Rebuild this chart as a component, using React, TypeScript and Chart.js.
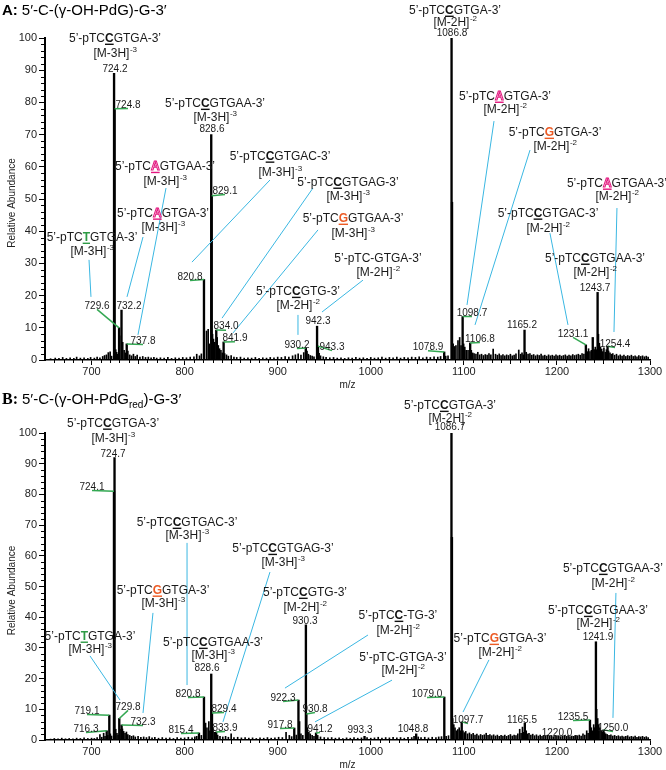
import React, { useEffect, useRef } from 'react';
import { Chart, registerables } from 'chart.js';
Chart.register(...registerables);

const FONT = '"Liberation Sans", Arial, sans-serif';
const X_MIN = 650;
const X_MAX = 1300;

// ---------- Panel A spectrum ----------
const A_PEAKS: [number, number][] = [
  [724.2, 89], [724.8, 78], [729.6, 10], [732.2, 15.5], [737.8, 5], [820.8, 25], [828.6, 70], [829.1, 51],
  [834.0, 9.3], [841.9, 5.6], [930.2, 3.7], [942.3, 10.5], [943.3, 4.3], [1078.9, 2.5], [1086.8, 100],
  [1087.3, 49], [1098.7, 13.5], [1106.8, 5.3], [1165.2, 9.3], [1231.1, 4.7], [1238.5, 7], [1243.7, 21], [1254.4, 4.3],
];
const A_NOISE: [number, number][] = [
  [656, 0.4], [661, 0.6], [665, 0.5], [669, 0.8], [673, 0.5], [677, 0.7], [681, 0.5], [684, 0.9], [688, 0.6],
  [692, 0.7], [696, 0.5], [699, 0.8], [703, 0.6], [706, 0.9], [709, 0.7], [712, 1.1], [714, 1.4], [716, 1.6],
  [718, 2.3], [720, 2.5], [721.5, 1.2], [726, 3.2], [727, 2.4], [728, 1.8], [730.2, 7.5], [733.5, 5.5], [735, 3.0],
  [736.5, 2.2], [739, 2.8], [741, 1.6], [743, 1.3], [745, 1.8], [747, 1.1], [749, 1.5], [752, 0.9], [755, 1.1],
  [758, 0.8], [761, 0.9], [764, 0.7], [767, 0.8], [770, 0.6], [774, 0.7], [778, 0.6], [782, 0.8], [786, 0.5],
  [790, 0.7], [794, 0.6], [798, 0.8], [802, 0.7], [806, 0.9], [810, 1.0], [813, 1.8], [816, 1.3], [818, 1.9],
  [823.5, 9.0], [825.3, 9.5], [826.5, 5.0], [830, 8.0], [831, 6.5], [832.3, 5.5], [835, 7.0], [836.2, 4.5],
  [837.5, 3.5], [839, 3.0], [840.5, 2.2], [843, 2.0], [845, 1.6], [847, 1.2], [850, 1.4], [853, 0.9], [856, 0.8],
  [860, 0.9], [864, 0.6], [868, 0.7], [872, 0.6], [876, 0.8], [880, 0.5], [884, 0.7], [888, 0.6], [892, 0.8],
  [896, 0.7], [900, 0.9], [904, 0.8], [908, 1.1], [912, 0.9], [916, 1.3], [919, 1.6], [922, 1.9], [925, 1.5],
  [928, 2.3], [931.5, 2.8], [933, 1.8], [935, 1.4], [937, 1.2], [939, 1.0], [944.5, 2.1], [946, 1.3], [949, 1.0],
  [952, 0.8], [956, 0.7], [960, 0.8], [964, 0.6], [968, 0.7], [972, 0.5], [976, 0.7], [980, 0.6], [984, 0.8],
  [988, 0.6], [992, 0.7], [996, 0.5], [1000, 0.8], [1004, 0.6], [1008, 0.7], [1012, 0.9], [1016, 0.6], [1020, 0.8],
  [1024, 0.7], [1028, 0.9], [1032, 0.6], [1036, 0.8], [1040, 0.7], [1044, 0.9], [1048, 0.8], [1052, 1.0],
  [1056, 0.7], [1060, 0.9], [1064, 0.8], [1068, 1.0], [1072, 0.9], [1075, 1.1], [1080.5, 1.2], [1083, 1.3],
  [1088.5, 5.0], [1090, 4.2], [1091.5, 4.5], [1093.7, 6.0], [1095.5, 7.0], [1097, 4.5], [1099.8, 5.0],
  [1101, 4.0], [1102.5, 3.0], [1104.5, 3.0], [1108, 3.0], [1109.5, 2.2], [1111, 2.0], [1113, 1.8], [1115, 2.4],
  [1117, 1.6], [1119, 1.8], [1121, 1.4], [1123, 1.7], [1125, 1.5], [1127, 2.0], [1129, 1.6], [1131.5, 3.4],
  [1134, 1.8], [1136, 1.5], [1138, 1.9], [1140, 1.4], [1142, 1.7], [1144, 1.3], [1146, 1.6], [1148, 1.4],
  [1150, 1.8], [1152, 1.3], [1154, 1.5], [1156, 1.9], [1159, 3.1], [1161, 1.8], [1162.5, 2.2], [1163.8, 1.6],
  [1167, 2.4], [1169, 1.8], [1171, 2.0], [1173, 1.5], [1175, 1.7], [1177, 1.3], [1179, 1.6], [1181, 1.4],
  [1183, 1.8], [1185, 1.3], [1187, 1.5], [1189, 1.2], [1191, 1.6], [1193, 1.3], [1195, 1.5], [1197, 1.2],
  [1199, 1.6], [1201, 1.3], [1203, 1.5], [1205, 1.2], [1207, 1.4], [1209, 1.6], [1211, 1.2], [1213, 1.5],
  [1215, 1.3], [1217, 1.7], [1219, 1.4], [1221, 1.6], [1223, 1.8], [1225, 1.5], [1227, 2.0], [1229, 1.8],
  [1232.5, 2.6], [1234, 3.5], [1235.5, 2.6], [1237, 3.0], [1240, 3.2], [1241.2, 4.0], [1242.4, 3.2],
  [1244.6, 8.0], [1245.6, 5.2], [1246.8, 4.0], [1248, 3.4], [1249.3, 2.6], [1250.5, 3.8], [1252, 2.4],
  [1253.2, 3.2], [1255.5, 2.8], [1257, 2.2], [1258.5, 1.8], [1260, 2.0], [1262, 1.5], [1264, 1.8], [1266, 1.3],
  [1268, 1.6], [1270, 1.2], [1272, 1.5], [1274, 1.1], [1276, 1.4], [1278, 1.2], [1280, 1.5], [1282, 1.1],
  [1284, 1.3], [1286, 1.0], [1288, 1.4], [1290, 1.1], [1292, 1.3], [1294, 1.0], [1296, 1.2], [1298, 0.9],
];

// ---------- Panel B spectrum ----------
const B_PEAKS: [number, number][] = [
  [716.3, 3], [719.1, 8.1], [724.1, 81], [724.7, 92], [729.8, 7], [732.3, 4.9], [815.4, 2.3], [820.8, 14],
  [828.6, 21.5], [829.4, 8.8], [833.9, 2.6], [917.8, 3.9], [922.3, 13], [930.3, 37.5], [930.8, 8.5], [941.2, 2.3],
  [993.3, 1.2], [1048.8, 2.0], [1079.0, 14], [1086.7, 100], [1087.2, 66], [1097.7, 5.9], [1165.5, 5.5],
  [1220.0, 1.5], [1235.5, 6.5], [1241.9, 32], [1250.0, 3.3],
];
const B_NOISE: [number, number][] = [
  [656, 0.3], [660, 0.5], [664, 0.4], [668, 0.6], [672, 0.4], [676, 0.5], [680, 0.4], [684, 0.6], [688, 0.5],
  [692, 0.7], [696, 0.5], [700, 0.6], [703, 0.5], [706, 0.8], [709, 1.8], [711, 0.9], [713, 2.2], [714.5, 1.2],
  [717.5, 1.5], [720.2, 2.0], [721.5, 1.3], [726, 3.5], [727.3, 2.2], [728.5, 1.6], [730.6, 3.5], [733.2, 3.6],
  [734.5, 2.8], [736, 2.2], [737.5, 2.6], [739, 1.8], [741, 1.5], [743, 1.2], [745, 1.4], [747, 1.0], [750, 1.2],
  [753, 0.9], [756, 1.0], [759, 0.8], [762, 1.1], [765, 0.7], [768, 0.9], [772, 0.6], [776, 0.8], [780, 0.6],
  [784, 0.7], [788, 0.5], [792, 0.8], [796, 0.6], [800, 0.7], [804, 0.9], [808, 0.7], [811, 1.0], [813, 1.2],
  [818, 1.5], [822.5, 5.5], [824, 4.0], [826, 6.0], [827.2, 3.0], [830.5, 3.5], [832, 2.5], [835.5, 1.6],
  [838, 1.2], [841, 1.0], [844, 1.2], [847, 0.9], [850, 2.0], [853, 0.8], [857, 0.9], [861, 0.7], [865, 0.8],
  [869, 0.6], [873, 0.7], [877, 0.5], [881, 0.7], [885, 0.6], [889, 0.8], [893, 0.6], [897, 0.7], [901, 0.9],
  [905, 0.8], [909, 2.5], [912.5, 1.5], [915, 1.1], [920, 1.6], [923.5, 6.0], [925, 2.0], [927, 1.5], [932, 4.0],
  [933.5, 2.5], [935, 2.0], [937, 1.5], [939, 1.2], [943, 1.5], [946, 1.0], [950, 0.8], [954, 0.7], [958, 0.8],
  [962, 0.6], [966, 0.7], [970, 0.5], [974, 0.7], [978, 0.6], [982, 0.8], [986, 0.6], [990, 0.7], [996, 0.8],
  [1000, 0.6], [1004, 0.7], [1008, 0.9], [1012, 0.6], [1016, 0.8], [1020, 0.7], [1024, 0.9], [1028, 0.7],
  [1032, 0.8], [1036, 0.6], [1040, 0.9], [1044, 0.8], [1046.5, 1.2], [1051, 1.0], [1054, 0.8], [1058, 0.9],
  [1062, 0.7], [1066, 0.9], [1070, 0.8], [1073, 1.0], [1076, 1.1], [1081, 1.2], [1083.5, 1.4], [1088, 7.0],
  [1089.2, 5.0], [1090.5, 4.0], [1092, 3.0], [1093.5, 3.4], [1095, 4.0], [1096.5, 3.0], [1099, 3.0],
  [1100.5, 2.4], [1102, 2.8], [1104, 2.0], [1106, 2.3], [1108, 1.8], [1110, 2.2], [1112, 1.6], [1114, 1.9],
  [1116, 1.4], [1118, 1.8], [1120, 1.5], [1122, 1.7], [1124, 2.2], [1126, 1.5], [1128, 1.8], [1130, 1.4],
  [1132, 1.7], [1134, 1.3], [1136, 1.6], [1138, 1.2], [1140, 1.5], [1142, 1.3], [1144, 1.6], [1146, 1.2],
  [1148, 1.5], [1150, 1.8], [1152, 1.3], [1154, 1.6], [1156, 1.4], [1158, 2.0], [1160, 3.5], [1161.5, 2.2],
  [1163, 4.2], [1164.3, 2.5], [1167, 3.0], [1168.5, 2.0], [1170, 2.2], [1172, 1.6], [1174, 1.9], [1176, 1.4],
  [1178, 1.7], [1180, 1.3], [1182, 1.6], [1184, 1.2], [1186, 1.5], [1188, 1.3], [1190, 1.6], [1192, 1.2],
  [1194, 1.4], [1196, 1.1], [1198, 1.5], [1200, 1.2], [1202, 1.4], [1204, 1.1], [1206, 1.3], [1208, 1.5],
  [1210, 1.2], [1212, 1.4], [1214, 1.1], [1216, 1.3], [1218, 1.2], [1222, 1.4], [1224, 1.6], [1226, 1.3],
  [1228, 2.0], [1230, 1.6], [1232, 3.0], [1233.5, 2.2], [1237, 4.0], [1238.5, 3.0], [1239.5, 5.0], [1240.5, 4.0],
  [1242.7, 10.0], [1243.8, 7.0], [1245, 5.0], [1246.2, 4.0], [1247.5, 3.0], [1248.8, 2.6], [1251.2, 2.4],
  [1252.5, 2.0], [1254, 1.8], [1256, 1.5], [1258, 1.7], [1260, 1.3], [1262, 1.5], [1264, 1.2], [1266, 1.4],
  [1268, 1.1], [1270, 1.3], [1272, 1.0], [1274, 1.2], [1276, 1.4], [1278, 1.0], [1280, 1.2], [1282, 1.0],
  [1284, 1.3], [1286, 0.9], [1288, 1.1], [1290, 1.0], [1292, 1.2], [1294, 0.9], [1296, 1.1], [1298, 0.8],
];

// ---------- Sequence labels (text) ----------
type Seq = { pre: string; hl: string; post: string; ion: string; z: string };
const S = (pre: string, hl: string, post: string, ion: string, z: string): Seq => ({ pre, hl, post, ion, z });

const A_SEQ: Seq[] = [
  S('5’-pTC', 'C', 'GTGA-3’', '[M-3H]', '-3'),
  S('5’-pTC', 'C', 'GTGAA-3’', '[M-3H]', '-3'),
  S('5’-pTC', 'A', 'GTGAA-3’', '[M-3H]', '-3'),
  S('5’-pTC', 'A', 'GTGA-3’', '[M-3H]', '-3'),
  S('5’-pTC', 'T', 'GTGA-3’', '[M-3H]', '-3'),
  S('5’-pTC', 'C', 'GTGAC-3’', '[M-3H]', '-3'),
  S('5’-pTC', 'C', 'GTGAG-3’', '[M-3H]', '-3'),
  S('5’-pTC', 'G', 'GTGAA-3’', '[M-3H]', '-3'),
  S('5’-pTC', 'C', 'GTG-3’', '[M-2H]', '-2'),
  S('5’-pTC-GTGA-3’', '', '', '[M-2H]', '-2'),
  S('5’-pTC', 'C', 'GTGA-3’', '[M-2H]', '-2'),
  S('5’-pTC', 'A', 'GTGA-3’', '[M-2H]', '-2'),
  S('5’-pTC', 'G', 'GTGA-3’', '[M-2H]', '-2'),
  S('5’-pTC', 'A', 'GTGAA-3’', '[M-2H]', '-2'),
  S('5’-pTC', 'C', 'GTGAC-3’', '[M-2H]', '-2'),
  S('5’-pTC', 'C', 'GTGAA-3’', '[M-2H]', '-2'),
];
const B_SEQ: Seq[] = [
  S('5’-pTC', 'C', 'GTGA-3’', '[M-3H]', '-3'),
  S('5’-pTC', 'C', 'GTGAC-3’', '[M-3H]', '-3'),
  S('5’-pTC', 'C', 'GTGAG-3’', '[M-3H]', '-3'),
  S('5’-pTC', 'G', 'GTGA-3’', '[M-3H]', '-3'),
  S('5’-pTC', 'T', 'GTGA-3’', '[M-3H]', '-3'),
  S('5’-pTC', 'C', 'GTGAA-3’', '[M-3H]', '-3'),
  S('5’-pTC', 'C', 'GTG-3’', '[M-2H]', '-2'),
  S('5’-pTC', 'C', '-TG-3’', '[M-2H]', '-2'),
  S('5’-pTC-GTGA-3’', '', '', '[M-2H]', '-2'),
  S('5’-pTC', 'G', 'GTGA-3’', '[M-2H]', '-2'),
  S('5’-pTC', 'C', 'GTGAA-3’', '[M-2H]', '-2'),
  S('5’-pTC', 'C', 'GTGAA-3’', '[M-2H]', '-2'),
  S('5’-pTC', 'C', 'GTGA-3’', '[M-2H]', '-2'),
];

// label anchor (m/z, abundance) and gap between the two text lines (px)
const A_SEQ_POS: [number, number, number][] = [
  [725.2, 100, 15], [832.6, 79.8, 14], [778.9, 60.2, 15], [776.8, 45.7, 14], [700.5, 38.2, 14],
  [902.5, 63.4, 16], [975.5, 55.3, 14], [980.9, 44.1, 15], [921.8, 21.4, 14], [1007.8, 31.7, 14],
  [1090.5, 108.7, 12], [1144.2, 82, 13], [1197.9, 70.8, 14], [1264.5, 55, 13], [1190.4, 45.7, 15],
  [1240.9, 31.7, 14],
];
const B_SEQ_POS: [number, number, number][] = [
  [723.1, 103.3, 15], [802.6, 71, 13], [905.7, 62.5, 14], [776.8, 48.9, 13], [698.3, 33.9, 13],
  [830.5, 31.9, 13], [929.3, 48.2, 15], [1029.2, 40.7, 15], [1034.6, 27, 13], [1138.8, 33.2, 14],
  [1260.2, 56, 15], [1244.1, 42.3, 13], [1085.1, 109.1, 13],
];

// cyan leader lines: from label to m/z value label
const A_LEADERS: [number, number, number, number][] = [
  [780, 53.4, 749.9, 7.8], [755.3, 38.2, 738.1, 19.6], [697.3, 31.1, 699.4, 19.6], [891.7, 55.9, 807.9, 30.4],
  [937.9, 53.4, 840.2, 13.0], [943.3, 40.4, 852, 8.4], [921.8, 14, 921.8, 7.8], [991.6, 24.8, 947.6, 14.9],
  [1132.4, 74.2, 1103.4, 17.1], [1171.1, 65.2, 1112, 10.9], [1264.5, 47.2, 1261.3, 8.7], [1192.5, 39.4, 1211.9, 10.9],
];
const B_LEADERS: [number, number, number, number][] = [
  [802.6, 64.2, 802.6, 17.9], [891.7, 54.7, 841.2, 5.9], [766, 41.4, 755.3, 8.8], [698.3, 27.4, 730.6, 13],
  [997, 34.2, 907.8, 16.9], [1022.8, 19.5, 940.1, 5.9], [1127, 26.1, 1099.1, 9.1], [1263.4, 47.9, 1260.2, 7.2],
];

// m/z value labels
const A_VALUE_MZ = [724.2, 724.8, 828.6, 829.1, 820.8, 834.0, 841.9, 729.6, 732.2, 737.8, 930.2, 942.3, 943.3,
  1086.8, 1098.7, 1106.8, 1078.9, 1165.2, 1231.1, 1243.7, 1254.4];
const A_VALUE_POS: [number, number, number][] = [
  [725.2, 90.7, 0], [739.2, 79.5, 1], [829.4, 72, 0], [843.4, 52.8, 1], [805.8, 26.1, 1], [844.5, 10.6, 1],
  [854.1, 7.1, 1], [705.9, 17.1, 1], [740.2, 17.1, 0], [755.3, 6.2, 1], [920.7, 5.0, 1], [943.3, 12.4, 0],
  [958.3, 4.3, 1], [1087.3, 101.6, 0], [1108.7, 14.9, 1], [1117.3, 6.8, 1], [1061.5, 4.3, 1], [1162.5, 11.2, 0],
  [1217.3, 8.4, 1], [1240.9, 22.7, 0], [1262.4, 5.3, 1],
];
const B_VALUE_MZ = [724.7, 724.1, 719.1, 716.3, 729.8, 732.3, 820.8, 815.4, 828.6, 829.4, 833.9, 930.3, 922.3,
  930.8, 917.8, 941.2, 993.3, 1048.8, 1079.0, 1086.7, 1097.7, 1165.5, 1220.0, 1235.5, 1241.9, 1250.0];
const B_VALUE_POS: [number, number, number][] = [
  [723.1, 93.5, 0], [700.5, 82.7, 1], [695.1, 9.8, 1], [694, 3.9, 1], [739.2, 11.1, 1], [755.3, 6.2, 1],
  [803.6, 15.3, 1], [796.1, 3.6, 1], [824, 23.5, 0], [842.3, 10.4, 1], [843.4, 4.2, 1], [929.3, 39.1, 0],
  [905.7, 14, 1], [940.1, 10.4, 1], [902.5, 5.2, 1], [945.4, 3.9, 1], [988.4, 3.3, 0], [1045.4, 3.9, 0],
  [1060.4, 15.3, 1], [1085.1, 102, 0], [1104.4, 6.8, 1], [1162.5, 6.8, 0], [1200.1, 2.6, 0], [1217.3, 7.8, 1],
  [1244.1, 33.9, 0], [1260.2, 4.2, 1],
];

const HL_COLOR: Record<string, string> = { C: '#111111', A: '#e3177f', G: '#ec5a24', T: '#2e9b45' };
const CYAN = '#3ab7e2';
const GREEN = '#34a853';
const INK = '#1a1a1a';

type PanelCfg = {
  letter: string;
  serifLetter: boolean;
  sub: boolean;
  peaks: [number, number][];
  noise: [number, number][];
  seq: Seq[];
  seqPos: [number, number, number][];
  leaders: [number, number, number, number][];
  valueMz: number[];
  valuePos: [number, number, number][];
  height: number;
  top: number;
  titleBase: number;
  mzY: number;
};

function drawSeq(ctx: CanvasRenderingContext2D, s: Seq, cx: number, cy: number, gap: number) {
  const f = `12px ${FONT}`;
  const fb = `bold 12px ${FONT}`;
  ctx.textAlign = 'left';
  ctx.textBaseline = 'alphabetic';
  ctx.font = f;
  const w1 = ctx.measureText(s.pre).width;
  const w3 = ctx.measureText(s.post).width;
  ctx.font = fb;
  const w2 = s.hl ? ctx.measureText(s.hl).width : 0;
  const x0 = cx - (w1 + w2 + w3) / 2;
  const by = cy + 4.3;
  ctx.fillStyle = INK;
  ctx.font = f;
  ctx.fillText(s.pre, x0, by);
  if (s.hl) {
    const col = HL_COLOR[s.hl];
    ctx.font = fb;
    if (s.hl === 'A') {
      ctx.fillStyle = '#ffffff';
      ctx.fillText(s.hl, x0 + w1, by);
      ctx.strokeStyle = col;
      ctx.lineWidth = 1;
      ctx.strokeText(s.hl, x0 + w1, by);
    } else {
      ctx.fillStyle = col;
      ctx.fillText(s.hl, x0 + w1, by);
    }
    ctx.fillStyle = col;
    ctx.fillRect(x0 + w1, by + 1.3, w2, 1.4);
    ctx.fillStyle = INK;
    ctx.font = f;
    ctx.fillText(s.post, x0 + w1 + w2, by);
  }
  const iy = by + gap;
  ctx.font = f;
  const wi = ctx.measureText(s.ion).width;
  ctx.font = `8px ${FONT}`;
  const wz = ctx.measureText(s.z).width;
  const xi = cx - (wi + wz) / 2;
  ctx.fillStyle = INK;
  ctx.font = f;
  ctx.fillText(s.ion, xi, iy);
  ctx.font = `8px ${FONT}`;
  ctx.fillText(s.z, xi + wi + 0.5, iy - 5);
}

function makePlugin(cfg: PanelCfg) {
  return {
    id: 'annot' + cfg.letter,
    afterDraw(chart: any) {
      const { ctx, chartArea } = chart;
      const xs = chart.scales.x;
      const ys = chart.scales.y;
      const px = (m: number) => xs.getPixelForValue(m);
      const py = (a: number) => ys.getPixelForValue(a);
      ctx.save();

      // minor ticks
      ctx.strokeStyle = '#000';
      ctx.lineWidth = 1;
      ctx.beginPath();
      for (let v = 2; v < 100; v += 2) {
        if (v % 10 === 0) continue;
        const yy = Math.round(py(v)) + 0.5;
        ctx.moveTo(chartArea.left - 4, yy);
        ctx.lineTo(chartArea.left, yy);
      }
      for (let m = X_MIN + 10; m < X_MAX; m += 10) {
        if (m % 100 === 0) continue;
        const xx = Math.round(px(m)) + 0.5;
        ctx.moveTo(xx, chartArea.bottom);
        ctx.lineTo(xx, chartArea.bottom + (m % 50 === 0 ? 4 : 3));
      }
      ctx.stroke();

      // title
      ctx.fillStyle = '#000';
      ctx.textAlign = 'left';
      ctx.textBaseline = 'alphabetic';
      let tx = 2;
      ctx.font = cfg.serifLetter ? `bold 16px "Liberation Serif", "Times New Roman", serif` : `bold 15px ${FONT}`;
      ctx.fillText(cfg.letter + ':', tx, cfg.titleBase);
      tx += ctx.measureText(cfg.letter + ':').width + 4;
      ctx.font = `15px ${FONT}`;
      if (cfg.sub) {
        const t1 = '5′-C-(γ-OH-PdG';
        ctx.fillText(t1, tx, cfg.titleBase);
        tx += ctx.measureText(t1).width;
        ctx.font = `10px ${FONT}`;
        ctx.fillText('red', tx, cfg.titleBase + 4);
        tx += ctx.measureText('red').width;
        ctx.font = `15px ${FONT}`;
        ctx.fillText(')-G-3′', tx, cfg.titleBase);
      } else {
        ctx.fillText('5′-C-(γ-OH-PdG)-G-3′', tx, cfg.titleBase);
      }

      // axis titles
      ctx.font = `10px ${FONT}`;
      ctx.fillStyle = '#222';
      ctx.textAlign = 'center';
      ctx.textBaseline = 'middle';
      ctx.fillText('m/z', (chartArea.left + chartArea.right) / 2, cfg.mzY);
      ctx.save();
      ctx.translate(12, (chartArea.top + chartArea.bottom) / 2 + 4);
      ctx.rotate(-Math.PI / 2);
      ctx.fillText('Relative Abundance', 0, 0);
      ctx.restore();

      // cyan leaders
      ctx.strokeStyle = CYAN;
      ctx.lineWidth = 1;
      ctx.beginPath();
      cfg.leaders.forEach(([m1, a1, m2, a2]) => {
        ctx.moveTo(px(m1), py(a1));
        ctx.lineTo(px(m2), py(a2));
      });
      ctx.stroke();

      // value labels + green connectors
      const allPeaks = cfg.peaks;
      cfg.valueMz.forEach((mz, i) => {
        const [lm, la, green] = cfg.valuePos[i];
        const cx = px(lm);
        const cy = py(la);
        if (green) {
          const pk = allPeaks.find((p) => p[0] === mz);
          if (pk) {
            ctx.strokeStyle = GREEN;
            ctx.lineWidth = 1.5;
            ctx.beginPath();
            ctx.moveTo(cx, cy + 4.5);
            ctx.lineTo(px(pk[0]), py(pk[1]));
            ctx.stroke();
          }
        }
        ctx.font = `10px ${FONT}`;
        ctx.fillStyle = INK;
        ctx.textAlign = 'center';
        ctx.textBaseline = 'alphabetic';
        ctx.fillText(mz.toFixed(1), cx, cy + 3.6);
      });

      // sequence labels
      cfg.seq.forEach((s, i) => {
        const [m, a, gap] = cfg.seqPos[i];
        drawSeq(ctx, s, px(m), py(a), gap);
      });
      ctx.restore();
    },
  };
}

function Panel({ cfg }: { cfg: PanelCfg }) {
  const ref = useRef<HTMLCanvasElement>(null);
  useEffect(() => {
    const tickFont = { family: FONT, size: 11 };
    const chart = new Chart(ref.current as HTMLCanvasElement, {
      type: 'bar',
      data: {
        datasets: [
          {
            data: cfg.noise.map(([x, y]) => ({ x, y })),
            backgroundColor: '#000',
            barThickness: 1,
            grouped: false,
          } as any,
          {
            data: cfg.peaks.map(([x, y]) => ({ x, y })),
            backgroundColor: '#000',
            barThickness: 1.7,
            grouped: false,
          } as any,
        ],
      },
      plugins: [makePlugin(cfg)],
      options: {
        responsive: false,
        animation: false,
        events: [],
        layout: { padding: { top: cfg.top, left: 0, right: 16, bottom: 0 } },
        plugins: { legend: { display: false }, tooltip: { enabled: false }, title: { display: false } },
        scales: {
          x: {
            type: 'linear',
            min: X_MIN,
            max: X_MAX,
            offset: false,
            afterBuildTicks: (s: any) => {
              s.ticks = s.ticks.filter((t: any) => t.value % 100 === 0);
            },
            afterFit: (s: any) => {
              s.height = 30;
            },
            ticks: {
              stepSize: 100,
              font: tickFont,
              color: '#222',
              padding: 0,
              maxRotation: 0,
              autoSkip: false,
              callback: (v: any) => String(v),
            },
            grid: { drawOnChartArea: false, drawTicks: true, tickLength: 5, color: '#000', lineWidth: 1, offset: false },
            border: { display: true, color: '#000', width: 1.5 },
          },
          y: {
            type: 'linear',
            min: 0,
            max: 100,
            afterFit: (s: any) => {
              s.width = 45;
            },
            ticks: { stepSize: 10, font: tickFont, color: '#222', padding: 2, callback: (v: any) => String(v) },
            grid: { drawOnChartArea: false, drawTicks: true, tickLength: 6, color: '#000', lineWidth: 1 },
            border: { display: true, color: '#000', width: 2 },
          },
        },
      } as any,
    });
    return () => chart.destroy();
  }, []);
  return <canvas ref={ref} width={666} height={cfg.height} style={{ display: 'block' }} />;
}

const PANEL_A: PanelCfg = {
  letter: 'A', serifLetter: false, sub: false, peaks: A_PEAKS, noise: A_NOISE, seq: A_SEQ, seqPos: A_SEQ_POS,
  leaders: A_LEADERS, valueMz: A_VALUE_MZ, valuePos: A_VALUE_POS, height: 390, top: 38, titleBase: 15, mzY: 385,
};
const PANEL_B: PanelCfg = {
  letter: 'B', serifLetter: true, sub: true, peaks: B_PEAKS, noise: B_NOISE, seq: B_SEQ, seqPos: B_SEQ_POS,
  leaders: B_LEADERS, valueMz: B_VALUE_MZ, valuePos: B_VALUE_POS, height: 380, top: 43, titleBase: 14, mzY: 375,
};

export default function App() {
  return (
    <div style={{ position: 'absolute', left: 0, top: 0, width: 666, height: 770, background: '#fff' }}>
      <Panel cfg={PANEL_A} />
      <Panel cfg={PANEL_B} />
    </div>
  );
}
